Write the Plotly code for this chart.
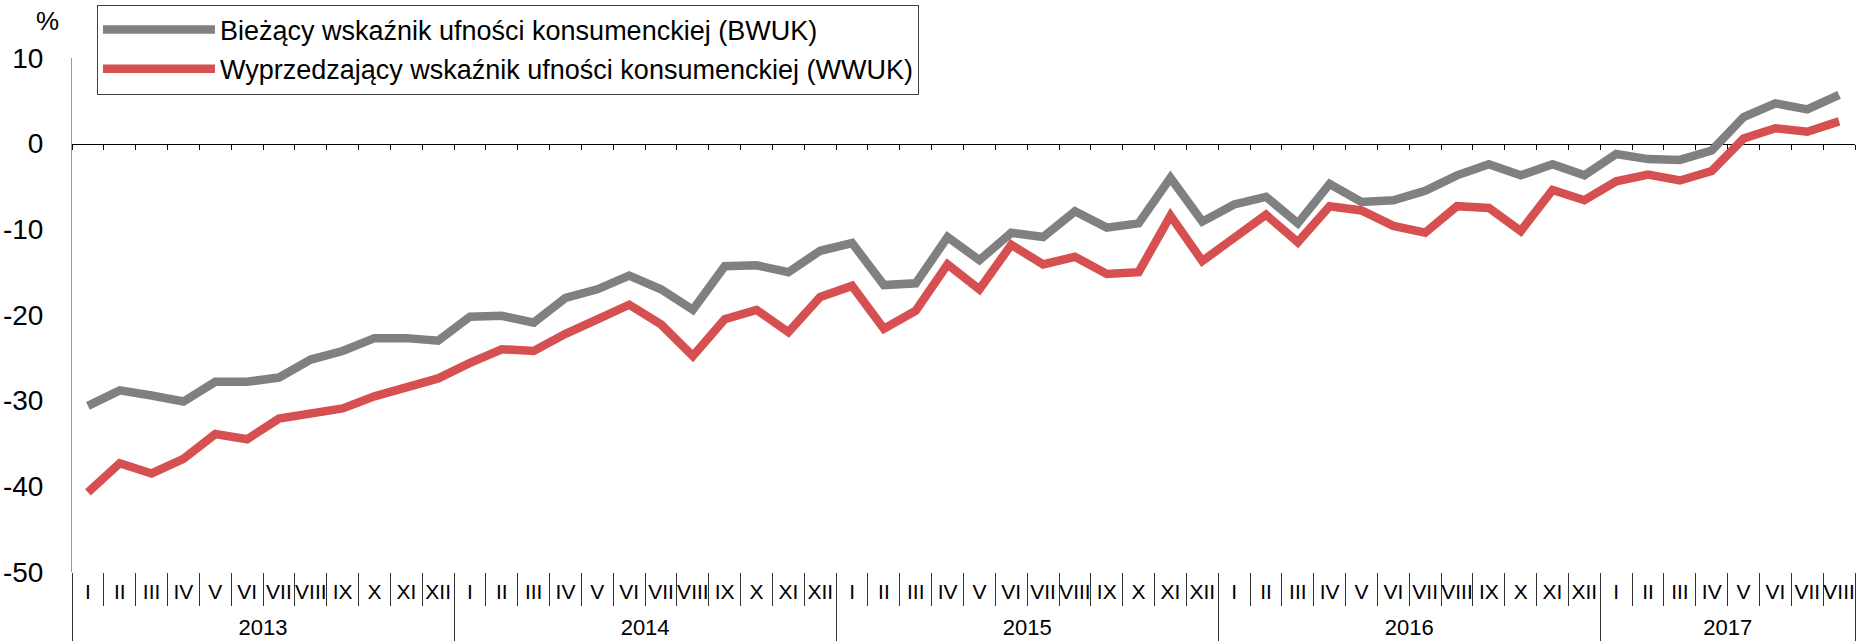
import plotly.graph_objects as go

# ---- data ----
year_labels = ["2013", "2014", "2015", "2016", "2017"]
month_labels = ["I", "II", "III", "IV", "V", "VI", "VII", "VIII", "IX", "X", "XI", "XII"]
months_per_year = [12, 12, 12, 12, 8]

bwuk = [
    -30.6, -28.8, -29.4, -30.1, -27.8, -27.8, -27.3, -25.2, -24.2, -22.7, -22.7, -23.0,   # 2013
    -20.2, -20.1, -20.9, -18.0, -17.0, -15.4, -17.0, -19.4, -14.3, -14.2, -15.0, -12.5,   # 2014
    -11.6, -16.5, -16.3, -10.9, -13.6, -10.4, -10.9, -7.9, -9.8, -9.3, -4.0, -9.1,        # 2015
    -7.1, -6.2, -9.3, -4.7, -6.8, -6.6, -5.5, -3.7, -2.4, -3.7, -2.4, -3.7,               # 2016
    -1.2, -1.8, -1.9, -0.8, 3.1, 4.7, 4.0, 5.7,                                           # 2017
]
wwuk = [
    -40.7, -37.3, -38.5, -36.8, -33.9, -34.5, -32.1, -31.6, -30.9, -29.5, -28.5, -27.4,   # 2013
    -25.6, -24.0, -24.2, -22.2, -20.5, -18.8, -21.1, -24.8, -20.5, -19.4, -22.0, -17.9,   # 2014
    -16.6, -21.6, -19.5, -14.1, -17.0, -11.8, -14.1, -13.2, -15.2, -15.0, -8.4, -13.7,    # 2015
    -11.0, -8.3, -11.5, -7.3, -7.8, -9.6, -10.4, -7.3, -7.5, -10.2, -5.4, -6.6,           # 2016
    -4.4, -3.6, -4.3, -3.2, 0.6, 1.8, 1.4, 2.6,                                           # 2017
]
name_bwuk = "Bieżący wskaźnik ufności konsumenckiej (BWUK)"
name_wwuk = "Wyprzedzający wskaźnik ufności konsumenckiej (WWUK)"
y_ticks = [10, 0, -10, -20, -30, -40, -50]
y_ticktext = ["10", "0", "-10", "-20", "-30", "-40", "-50"]

# ---- category keys (one per month) ----
x_keys, x_month = [], []
year_centers, year_bounds = [], [-0.5]
start = 0
for yr, n in zip(year_labels, months_per_year):
    for m in month_labels[:n]:
        x_keys.append(f"{m} {yr}")
        x_month.append(m)
    year_centers.append(start + (n - 1) / 2)
    start += n
    year_bounds.append(start - 0.5)
n_pts = len(x_keys)

FONT = "Liberation Sans, Arial, sans-serif"
GRAY = "#808080"
RED = "#D64F51"

fig = go.Figure()
fig.add_trace(go.Scatter(
    x=x_keys, y=bwuk, mode="lines", name=name_bwuk,
    line=dict(color=GRAY, width=8.5), legendgroup="a",
))
fig.add_trace(go.Scatter(
    x=x_keys, y=wwuk, mode="lines", name=name_wwuk,
    line=dict(color=RED, width=8.5), legendgroup="b",
))
# empty traces to attach the helper axes (zero line ticks, year labels)
fig.add_trace(go.Scatter(x=[], y=[], xaxis="x2", yaxis="y", showlegend=False, hoverinfo="skip"))
fig.add_trace(go.Scatter(x=[], y=[], xaxis="x3", yaxis="y", showlegend=False, hoverinfo="skip"))

y_min, y_max = -50, 10
zero_pos = (0 - y_min) / (y_max - y_min)
xr = [-0.5, n_pts - 0.5]

fig.update_layout(
    width=1864, height=641,
    margin=dict(l=72, r=9, t=58, b=69, autoexpand=False),
    paper_bgcolor="white", plot_bgcolor="white",
    font=dict(family=FONT, color="black", size=26),
    showlegend=True,
    legend=dict(
        x=0.014, y=1.104, xanchor="left", yanchor="top",
        bordercolor="#404040", borderwidth=1, bgcolor="white",
        font=dict(family=FONT, size=27, color="black"),
        itemwidth=112, tracegroupgap=1,
    ),
    xaxis=dict(
        type="category", automargin=False, range=xr,
        tickmode="array", tickvals=x_keys, ticktext=x_month,
        showline=False, showgrid=False, zeroline=False,
        ticks="outside", tickson="boundaries", ticklen=33, tickcolor="#333333", tickwidth=1,
        tickangle=0, ticklabelstandoff=5,
        tickfont=dict(family=FONT, size=21, color="black"),
    ),
    xaxis2=dict(
        type="linear", overlaying="x", anchor="free", position=zero_pos, side="bottom",
        range=xr, tick0=-0.5, dtick=1, automargin=False,
        showline=True, linecolor="black", linewidth=1,
        ticks="outside", ticklen=5, tickcolor="black", tickwidth=1,
        showticklabels=False, showgrid=False, zeroline=False, layer="below traces",
    ),
    xaxis3=dict(
        type="linear", overlaying="x", anchor="free", position=0, side="bottom",
        range=xr, automargin=False,
        tickmode="array", tickvals=year_centers, ticktext=year_labels,
        ticks="", showline=False, showgrid=False, zeroline=False,
        tickangle=0, ticklabelstandoff=40,
        tickfont=dict(family=FONT, size=22, color="black"),
        minor=dict(tickmode="array", tickvals=year_bounds, ticks="outside",
                   ticklen=70, tickcolor="#333333", tickwidth=1, showgrid=False),
    ),
    yaxis=dict(
        range=[y_min, y_max], tickmode="array", tickvals=y_ticks, ticktext=y_ticktext,
        automargin=False,
        showline=True, linecolor="#999999", linewidth=1,
        ticks="", showgrid=False, zeroline=False,
        tickfont=dict(family=FONT, size=28, color="black"),
        ticklabelstandoff=22,
    ),
    annotations=[dict(
        text="%", xref="paper", yref="paper", x=-0.0135, y=1.072,
        xanchor="center", yanchor="middle", showarrow=False,
        font=dict(family=FONT, size=26, color="black"),
    )],
)

fig.write_html("out.html", config={"displayModeBar": False},
               post_script="document.body.style.margin='0px';")
